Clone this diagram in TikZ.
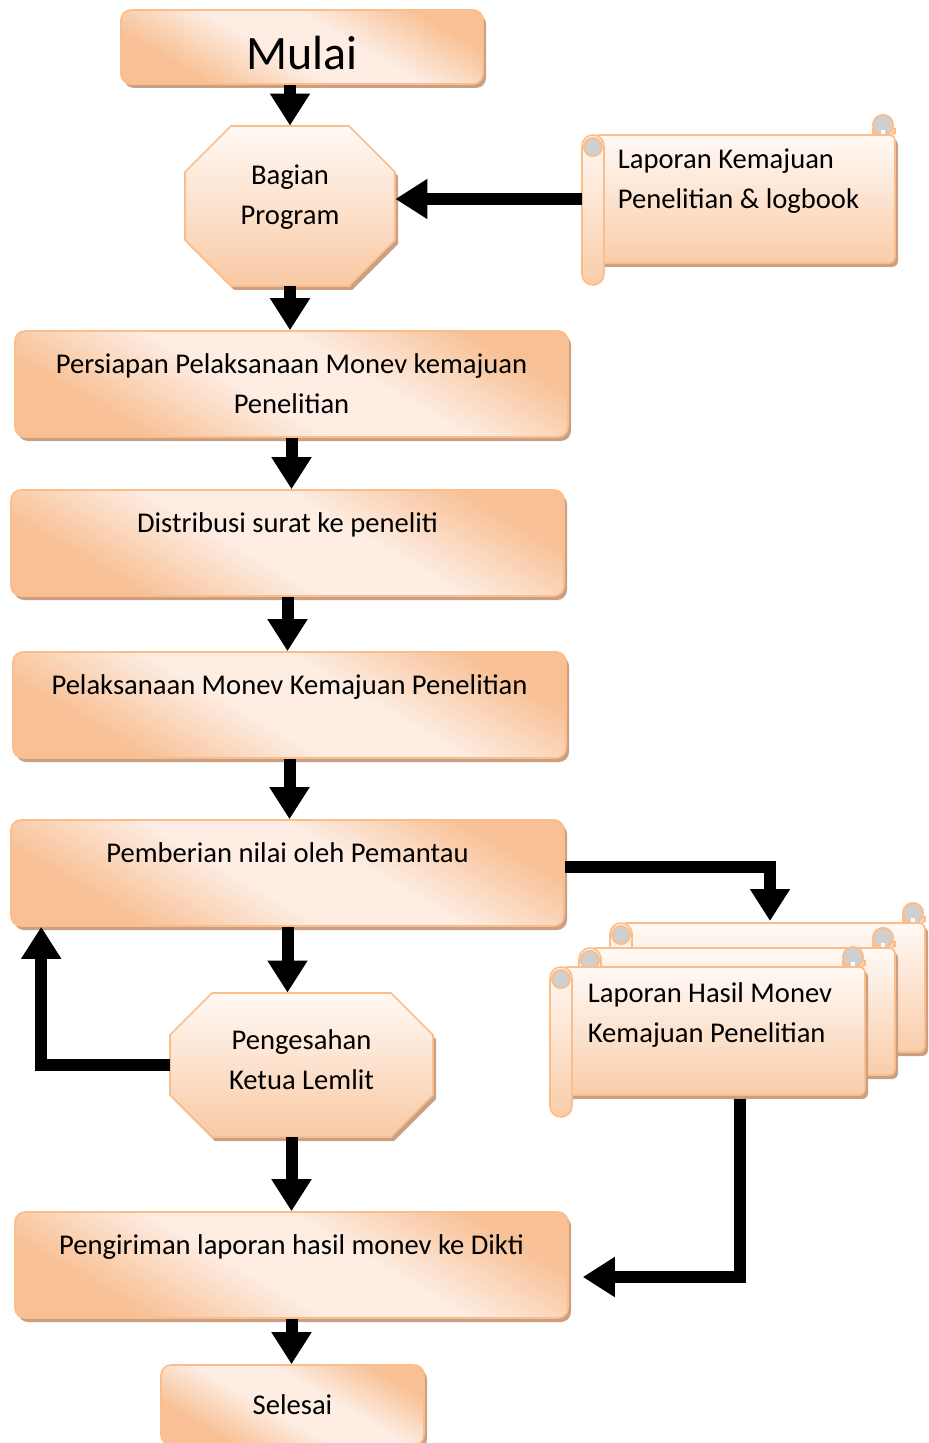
\documentclass[tikz,border=0pt]{standalone}
\usepackage{fontspec}
\setmainfont{Carlito}
\usetikzlibrary{arrows.meta,shadows}

\definecolor{jingga}{HTML}{F9BE8C}
\definecolor{jinggaT}{HTML}{F8C094}
\definecolor{jinggaM}{HTML}{FDEDE3}
\definecolor{putih}{HTML}{FFF9F5}
\definecolor{bayang}{HTML}{C9A083}
\definecolor{gulir}{HTML}{CFCFCF}

\pgfdeclarehorizontalshading{jinggashade}{100bp}{color(0bp)=(jinggaT); color(28bp)=(jinggaT); color(45bp)=(jinggaM); color(58bp)=(jinggaM); color(75bp)=(jinggaT); color(100bp)=(jinggaT)}

\tikzset{
	bayangan/.style={drop shadow={shadow xshift=1.5pt, shadow yshift=-2pt, fill=bayang, opacity=1}},
	huruf/.style={font=\fontsize{14.3}{20}\selectfont},
	kotak/.style={rectangle, rounded corners=5pt, draw=jingga, line width=0.8pt,
		shade, shading=jinggashade, shading angle=60, bayangan, huruf, align=center, inner sep=0pt},
	segi/.style={draw=jingga, line width=0.8pt, top color=putih, bottom color=jinggaT!85!white, bayangan},
	kertas/.style={draw=jingga, line width=0.8pt, top color=putih, bottom color=jinggaT!80!white},
	teks/.style={huruf, align=center, inner sep=0pt},
	panah/.style={line width=6pt, -{Triangle[width=19pt,length=16pt]}},
}

% segi delapan: kiri, atas, kanan, bawah, potongan
\newcommand{\oktagon}[5]{%
	\draw[segi] (#1+#5,#2) -- (#3-#5,#2) -- (#3,#2+#5) -- (#3,#4-#5) -- (#3-#5,#4) -- (#1+#5,#4) -- (#1,#4-#5) -- (#1,#2+#5) -- cycle;
}

% gulungan kertas: kiri, atas, kanan, bawah
\newcommand{\gulung}[4]{%
	\draw[kertas, rounded corners=5.5pt] (#3-22,#2+4) rectangle (#3,#2-12);
	\draw[kertas, rounded corners=3pt, bayangan] (#1+11,#2) rectangle (#3,#4);
	\draw[kertas, rounded corners=5.5pt] (#1,#2) rectangle (#1+22,#4+22);
	\filldraw[fill=gulir, draw=jingga, line width=1pt] (#1+11,#2+12) circle (4.5pt);
	\filldraw[fill=gulir, draw=jingga, line width=1pt] (#3-12,#2-10) circle (5pt);
	\fill[white] (#3-14,#2-5) rectangle (#3-10,#2-1);
}

\begin{document}
\begin{tikzpicture}[x=0.5pt, y=-0.5pt]
	\useasboundingbox (0,0) rectangle (928,1443);

	% kotak proses
	\node[kotak, minimum width=181pt, minimum height=37pt, font=\fontsize{24}{28}\selectfont, text height=23pt, text depth=0pt] (mulai) at (302,47) {Mulai};
	\oktagon{185}{126}{395}{286}{46}
	\node[teks, minimum width=105pt, minimum height=80pt, text depth=11pt] (bagian) at (290,206) {Bagian\\Program};
	\node[kotak, minimum width=276.5pt, minimum height=53pt] (persiapan) at (291.5,384) {Persiapan Pelaksanaan Monev kemajuan\\Penelitian};
	\node[kotak, minimum width=276.5pt, minimum height=53pt] (distribusi) at (287.5,543) {Distribusi surat ke peneliti\\ \mbox{}};
	\node[kotak, minimum width=276.5pt, minimum height=53pt] (pelaksanaan) at (289.5,705) {Pelaksanaan Monev Kemajuan Penelitian\\ \mbox{}};
	\node[kotak, minimum width=276.5pt, minimum height=53pt] (pemberian) at (287.5,873) {Pemberian nilai oleh Pemantau\\ \mbox{}};
	\oktagon{170}{993}{433}{1137}{42}
	\node[teks, minimum width=131.5pt, minimum height=72pt, text depth=5pt] (pengesahan) at (301.5,1065) {Pengesahan\\Ketua Lemlit};
	\node[kotak, minimum width=276.5pt, minimum height=53pt] (pengiriman) at (291.5,1265) {Pengiriman laporan hasil monev ke Dikti\\ \mbox{}};
	\node[kotak, minimum width=131.5pt, minimum height=40pt] (selesai) at (292.5,1405) {Selesai};

	% dokumen
	\gulung{582}{135}{895}{263}
	\node[teks, align=left, minimum width=156.5pt, minimum height=64pt] (lapkem) at (738.5,199) {Laporan Kemajuan\\Penelitian \& logbook\\ \mbox{}};
	\gulung{610}{923}{925}{1052}
	\gulung{579}{948}{895}{1075}
	\gulung{550}{967}{865}{1095}
	\node[teks, align=left, minimum width=157.5pt, minimum height=64pt] (tumpuk) at (710,1033) {Laporan Hasil Monev\\Kemajuan Penelitian\\ \mbox{}};
	\coordinate (masuk) at (770,921);

	% alur
	\draw[panah] (mulai.south -| bagian.north) -- (bagian.north);
	\draw[panah] (lapkem.west) -- (lapkem.west -| bagian.east);
	\draw[panah] (bagian.south) -- (bagian.south |- persiapan.north);
	\draw[panah] (persiapan.south) -- (persiapan.south |- distribusi.north);
	\draw[panah] (distribusi.south) -- (distribusi.south |- pelaksanaan.north);
	\draw[panah] (pelaksanaan.south) -- (pelaksanaan.south |- pemberian.north);
	\draw[panah] ([yshift=3pt]pemberian.east) -| (masuk);
	\draw[panah] (pemberian.south) -- (pemberian.south |- pengesahan.north);
	\draw[panah] (pengesahan.west) -| ([xshift=15.5pt]pemberian.south west);
	\draw[panah] (pengesahan.south -| pengiriman.north) -- (pengiriman.north);
	\draw[panah] ([xshift=15pt,yshift=-1pt]tumpuk.south) |- ([xshift=7pt,yshift=-6pt]pengiriman.east);
	\draw[panah] (pengiriman.south) -- (pengiriman.south |- selesai.north);
\end{tikzpicture}
\end{document}
